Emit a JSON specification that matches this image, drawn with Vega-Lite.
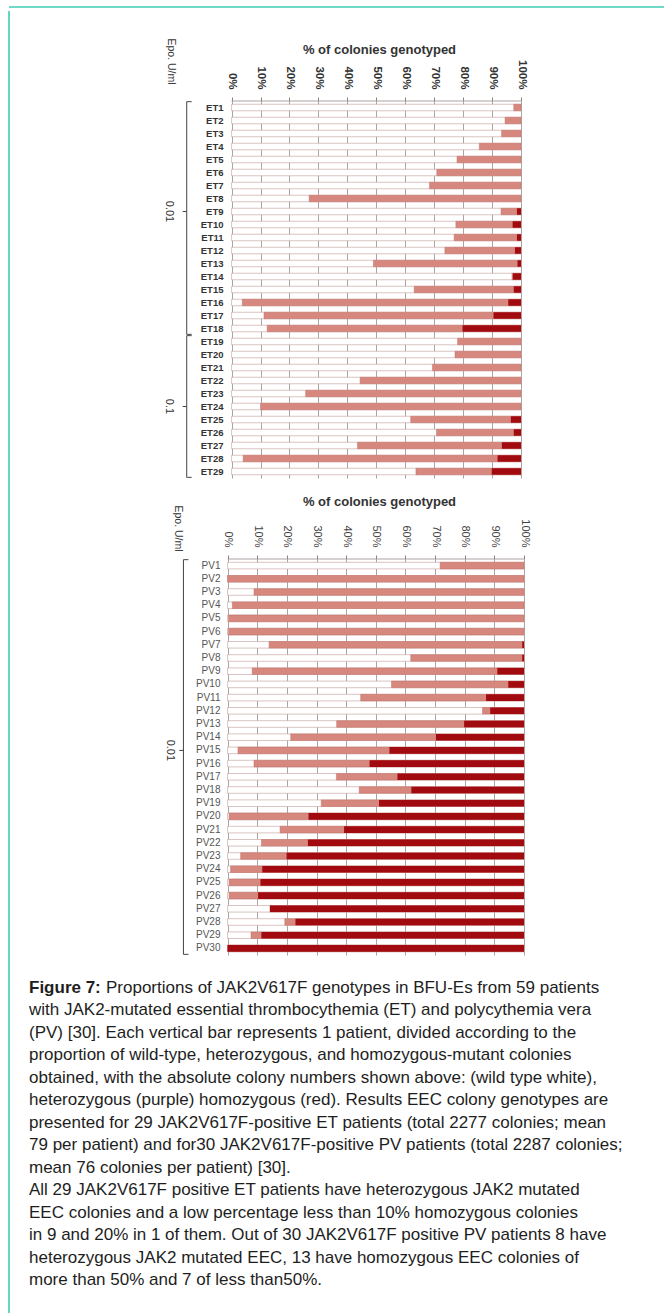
{
  "$schema": "https://vega.github.io/schema/vega-lite/v6.json",
  "background": "#ffffff",
  "padding": {"left": 8, "top": 6, "right": 0, "bottom": 0},
  "spacing": 0,
  "config": {
    "view": {"stroke": null},
    "font": "Liberation Sans",
    "axis": {"labelFont": "Liberation Sans", "titleFont": "Liberation Sans"}
  },
  "datasets": {
    "et": [
      {"patient": "ET1", "wt": 97.5, "wt_het": 100},
      {"patient": "ET2", "wt": 94.5, "wt_het": 100},
      {"patient": "ET3", "wt": 93.3, "wt_het": 100},
      {"patient": "ET4", "wt": 85.6, "wt_het": 100},
      {"patient": "ET5", "wt": 77.9, "wt_het": 100},
      {"patient": "ET6", "wt": 70.9, "wt_het": 100},
      {"patient": "ET7", "wt": 68.4, "wt_het": 100},
      {"patient": "ET8", "wt": 26.8, "wt_het": 100},
      {"patient": "ET9", "wt": 93.1, "wt_het": 98.6},
      {"patient": "ET10", "wt": 77.5, "wt_het": 97.1},
      {"patient": "ET11", "wt": 76.9, "wt_het": 98.6},
      {"patient": "ET12", "wt": 73.7, "wt_het": 97.9},
      {"patient": "ET13", "wt": 49.0, "wt_het": 98.8},
      {"patient": "ET14", "wt": 96.9, "wt_het": 97.2},
      {"patient": "ET15", "wt": 63.1, "wt_het": 97.5},
      {"patient": "ET16", "wt": 3.7, "wt_het": 95.6},
      {"patient": "ET17", "wt": 11.2, "wt_het": 90.5},
      {"patient": "ET18", "wt": 12.3, "wt_het": 79.8},
      {"patient": "ET19", "wt": 78.1, "wt_het": 100},
      {"patient": "ET20", "wt": 77.2, "wt_het": 100},
      {"patient": "ET21", "wt": 69.4, "wt_het": 100},
      {"patient": "ET22", "wt": 44.4, "wt_het": 100},
      {"patient": "ET23", "wt": 25.6, "wt_het": 100},
      {"patient": "ET24", "wt": 10.0, "wt_het": 100},
      {"patient": "ET25", "wt": 61.9, "wt_het": 96.5},
      {"patient": "ET26", "wt": 70.8, "wt_het": 97.5},
      {"patient": "ET27", "wt": 43.5, "wt_het": 93.4},
      {"patient": "ET28", "wt": 4.0, "wt_het": 91.9},
      {"patient": "ET29", "wt": 63.7, "wt_het": 89.9}
    ],
    "pv": [
      {"patient": "PV1", "wt": 71.7, "wt_het": 100},
      {"patient": "PV2", "wt": 0, "wt_het": 100},
      {"patient": "PV3", "wt": 8.9, "wt_het": 100},
      {"patient": "PV4", "wt": 1.6, "wt_het": 100},
      {"patient": "PV5", "wt": 0.3, "wt_het": 100},
      {"patient": "PV6", "wt": 0.3, "wt_het": 100},
      {"patient": "PV7", "wt": 14.0, "wt_het": 99.4},
      {"patient": "PV8", "wt": 61.8, "wt_het": 99.4},
      {"patient": "PV9", "wt": 8.3, "wt_het": 91.0},
      {"patient": "PV10", "wt": 55.3, "wt_het": 94.7},
      {"patient": "PV11", "wt": 44.9, "wt_het": 87.2},
      {"patient": "PV12", "wt": 86.0, "wt_het": 88.6},
      {"patient": "PV13", "wt": 36.8, "wt_het": 79.8},
      {"patient": "PV14", "wt": 21.3, "wt_het": 70.3},
      {"patient": "PV15", "wt": 3.5, "wt_het": 54.6},
      {"patient": "PV16", "wt": 8.9, "wt_het": 47.9},
      {"patient": "PV17", "wt": 36.7, "wt_het": 57.3},
      {"patient": "PV18", "wt": 44.4, "wt_het": 62.0},
      {"patient": "PV19", "wt": 31.6, "wt_het": 51.1},
      {"patient": "PV20", "wt": 0.5, "wt_het": 27.3},
      {"patient": "PV21", "wt": 17.7, "wt_het": 39.3},
      {"patient": "PV22", "wt": 11.4, "wt_het": 27.1},
      {"patient": "PV23", "wt": 4.4, "wt_het": 19.9},
      {"patient": "PV24", "wt": 1.0, "wt_het": 11.7},
      {"patient": "PV25", "wt": 0.5, "wt_het": 11.1},
      {"patient": "PV26", "wt": 0.5, "wt_het": 10.3},
      {"patient": "PV27", "wt": 14.3, "wt_het": 14.3},
      {"patient": "PV28", "wt": 19.3, "wt_het": 22.9},
      {"patient": "PV29", "wt": 7.9, "wt_het": 11.4},
      {"patient": "PV30", "wt": 0, "wt_het": 0}
    ],
    "et_epo": [
      {"from": "ET1", "to": "ET18", "mid": "ET9", "epo": "0.01"},
      {"from": "ET19", "to": "ET29", "mid": "ET24", "epo": "0.1"}
    ],
    "pv_epo": [
      {"from": "PV1", "to": "PV30", "mid": "PV15", "epo": "0.01"}
    ],
    "caption": [
      {"line": 1, "lead": "Figure 7:", "text": "Proportions of JAK2V617F genotypes in BFU-Es from 59 patients"},
      {"line": 2, "text": "with JAK2-mutated essential thrombocythemia (ET) and polycythemia vera"},
      {"line": 3, "text": "(PV) [30]. Each vertical bar represents 1 patient, divided according to the"},
      {"line": 4, "text": "proportion of wild-type, heterozygous, and homozygous-mutant colonies"},
      {"line": 5, "text": "obtained, with the absolute colony numbers shown above: (wild type white),"},
      {"line": 6, "text": "heterozygous (purple) homozygous (red). Results EEC colony genotypes are"},
      {"line": 7, "text": "presented for 29 JAK2V617F-positive ET patients (total 2277 colonies; mean"},
      {"line": 8, "text": "79 per patient) and for30 JAK2V617F-positive PV patients (total 2287 colonies;"},
      {"line": 9, "text": "mean 76 colonies per patient) [30]."},
      {"line": 10, "text": "All 29 JAK2V617F positive ET patients have heterozygous JAK2 mutated"},
      {"line": 11, "text": "EEC colonies and a low percentage less than 10% homozygous colonies"},
      {"line": 12, "text": "in 9 and 20% in 1 of them. Out of 30 JAK2V617F positive PV patients 8 have"},
      {"line": 13, "text": "heterozygous JAK2 mutated EEC, 13 have homozygous EEC colonies of"},
      {"line": 14, "text": "more than 50% and 7 of less than50%."}
    ]
  },
  "vconcat": [
    {
      "width": 656,
      "height": 1,
      "data": {"values": [{}]},
      "mark": {"type": "rule", "color": "#3fcdb2", "strokeWidth": 1.6},
      "encoding": {"y": {"datum": 1, "type": "quantitative", "scale": {"domain": [0, 1]}, "axis": null}}
    },
    {
      "spacing": 19,
      "hconcat": [
        {
          "width": 1,
          "height": 1306,
          "data": {"values": [{}]},
          "mark": {"type": "rule", "color": "#3fcdb2", "strokeWidth": 1.6},
          "encoding": {"x": {"datum": 0, "type": "quantitative", "scale": {"domain": [0, 1]}, "axis": null}}
        },
        {
          "spacing": 17,
          "vconcat": [
            {
              "width": 1,
              "height": 7,
              "data": {"values": [{}]},
              "mark": {"type": "text", "text": ""},
              "encoding": {}
            },
            {
              "width": 492,
              "height": {"step": 13},
              "layer": [
                {
                  "data": {"name": "et"},
                  "mark": {"type": "bar", "fill": "#ffffff", "stroke": "#c9aaa6", "strokeWidth": 0.7},
                  "encoding": {
                    "y": {
                      "field": "patient", "type": "nominal",
                      "scale": {"domain": ["ET1","ET2","ET3","ET4","ET5","ET6","ET7","ET8","ET9","ET10","ET11","ET12","ET13","ET14","ET15","ET16","ET17","ET18","ET19","ET20","ET21","ET22","ET23","ET24","ET25","ET26","ET27","ET28","ET29"], "paddingInner": 0.5, "paddingOuter": 0.25},
                      "axis": {
                        "orient": "left", "offset": -203, "domain": false, "ticks": false, "grid": false,
                        "labelPadding": 9, "labelFontSize": 9.5, "labelFontWeight": "bold", "labelColor": "#333333",
                        "title": "Epo. U/ml", "titleAngle": 90, "titleX": -62, "titleY": -40,
                        "titleAlign": "center", "titleBaseline": "middle", "titleFontSize": 10.5,
                        "titleFontWeight": "normal", "titleColor": "#333333"
                      }
                    },
                    "x": {
                      "datum": 0, "type": "quantitative",
                      "scale": {"domain": [-70, 100], "nice": false, "zero": false},
                      "axis": {
                        "orient": "top", "values": [0,10,20,30,40,50,60,70,80,90,100],
                        "labelExpr": "datum.value + '%'", "labelAngle": 90, "labelAlign": "right", "labelBaseline": "middle",
                        "labelFontSize": 11.5, "labelFontWeight": "bold", "labelColor": "#333333", "labelPadding": 8,
                        "labelFlush": false, "labelOverlap": false, "labelBound": false,
                        "domain": false, "ticks": true, "tickSize": 4, "tickColor": "#8a8080",
                        "grid": true, "gridColor": "#a39898", "gridWidth": 0.9,
                        "title": "% of colonies genotyped", "titleX": 350, "titleY": -52,
                        "titleAlign": "center", "titleBaseline": "middle", "titleFontSize": 13,
                        "titleFontWeight": "bold", "titleColor": "#333333"
                      }
                    },
                    "x2": {"datum": 100}
                  }
                },
                {
                  "data": {"name": "et"},
                  "transform": [{"filter": "datum.wt < 100"}],
                  "mark": {"type": "bar", "fill": "#d6877e", "stroke": "#c47068", "strokeWidth": 0.5},
                  "encoding": {
                    "y": {"field": "patient", "type": "nominal"},
                    "x": {"field": "wt", "type": "quantitative"},
                    "x2": {"datum": 100}
                  }
                },
                {
                  "data": {"name": "et"},
                  "transform": [{"filter": "datum.wt_het < 100"}],
                  "mark": {"type": "bar", "fill": "#a10b10"},
                  "encoding": {
                    "y": {"field": "patient", "type": "nominal"},
                    "x": {"field": "wt_het", "type": "quantitative"},
                    "x2": {"datum": 100}
                  }
                },
                {
                  "data": {"values": [{}]},
                  "mark": {"type": "rule", "color": "#a39898", "strokeWidth": 0.9},
                  "encoding": {
                    "y": {"datum": "ET1", "type": "nominal", "bandPosition": -0.5},
                    "x": {"datum": 0, "type": "quantitative"},
                    "x2": {"datum": 100}
                  }
                },
                {
                  "data": {"name": "et_epo"},
                  "mark": {"type": "rule", "color": "#444444", "strokeWidth": 1},
                  "encoding": {
                    "y": {"field": "from", "type": "nominal", "bandPosition": -0.4},
                    "y2": {"field": "to", "bandPosition": 1.4},
                    "x": {"datum": -15.5, "type": "quantitative"}
                  }
                },
                {
                  "data": {"name": "et_epo"},
                  "mark": {"type": "rule", "color": "#444444", "strokeWidth": 1},
                  "encoding": {
                    "y": {"field": "from", "type": "nominal", "bandPosition": -0.4},
                    "x": {"datum": -15.5, "type": "quantitative"},
                    "x2": {"datum": -13.8}
                  }
                },
                {
                  "data": {"name": "et_epo"},
                  "mark": {"type": "rule", "color": "#444444", "strokeWidth": 1},
                  "encoding": {
                    "y": {"field": "to", "type": "nominal", "bandPosition": 1.4},
                    "x": {"datum": -15.5, "type": "quantitative"},
                    "x2": {"datum": -13.8}
                  }
                },
                {
                  "data": {"name": "et_epo"},
                  "mark": {"type": "rule", "color": "#444444", "strokeWidth": 1},
                  "encoding": {
                    "y": {"field": "mid", "type": "nominal"},
                    "x": {"datum": -15.5, "type": "quantitative"},
                    "x2": {"datum": -16.9}
                  }
                },
                {
                  "data": {"name": "et_epo"},
                  "mark": {"type": "text", "angle": 90, "align": "center", "baseline": "middle", "fontSize": 11, "color": "#333333"},
                  "encoding": {
                    "y": {"field": "mid", "type": "nominal"},
                    "x": {"datum": -21.5, "type": "quantitative"},
                    "text": {"field": "epo"}
                  }
                }
              ]
            },
            {
              "width": 495,
              "height": {"step": 13.2},
              "layer": [
                {
                  "data": {"name": "pv"},
                  "mark": {"type": "bar", "fill": "#ffffff", "stroke": "#c9aaa6", "strokeWidth": 0.7},
                  "encoding": {
                    "y": {
                      "field": "patient", "type": "nominal",
                      "scale": {"domain": ["PV1","PV2","PV3","PV4","PV5","PV6","PV7","PV8","PV9","PV10","PV11","PV12","PV13","PV14","PV15","PV16","PV17","PV18","PV19","PV20","PV21","PV22","PV23","PV24","PV25","PV26","PV27","PV28","PV29","PV30"], "paddingInner": 0.5, "paddingOuter": 0.25},
                      "axis": {
                        "orient": "left", "offset": -198, "domain": false, "ticks": false, "grid": false,
                        "labelPadding": 7, "labelFontSize": 10, "labelFontWeight": "normal", "labelColor": "#555555",
                        "title": "Epo. U/ml", "titleAngle": 90, "titleX": -50, "titleY": -31,
                        "titleAlign": "center", "titleBaseline": "middle", "titleFontSize": 10.5,
                        "titleFontWeight": "normal", "titleColor": "#333333"
                      }
                    },
                    "x": {
                      "datum": 0, "type": "quantitative",
                      "scale": {"domain": [-67, 100], "nice": false, "zero": false},
                      "axis": {
                        "orient": "top", "values": [0,10,20,30,40,50,60,70,80,90,100],
                        "labelExpr": "datum.value + '%'", "labelAngle": 90, "labelAlign": "right", "labelBaseline": "middle",
                        "labelFontSize": 11, "labelFontWeight": "normal", "labelColor": "#444444", "labelPadding": 8,
                        "labelFlush": false, "labelOverlap": false, "labelBound": false,
                        "domain": false, "ticks": true, "tickSize": 4, "tickColor": "#8a8080",
                        "grid": true, "gridColor": "#a39898", "gridWidth": 0.9,
                        "title": "% of colonies genotyped", "titleX": 350, "titleY": -58,
                        "titleAlign": "center", "titleBaseline": "middle", "titleFontSize": 13,
                        "titleFontWeight": "bold", "titleColor": "#333333"
                      }
                    },
                    "x2": {"datum": 100}
                  }
                },
                {
                  "data": {"name": "pv"},
                  "transform": [{"filter": "datum.wt < 100"}],
                  "mark": {"type": "bar", "fill": "#d6877e", "stroke": "#c47068", "strokeWidth": 0.5},
                  "encoding": {
                    "y": {"field": "patient", "type": "nominal"},
                    "x": {"field": "wt", "type": "quantitative"},
                    "x2": {"datum": 100}
                  }
                },
                {
                  "data": {"name": "pv"},
                  "transform": [{"filter": "datum.wt_het < 100"}],
                  "mark": {"type": "bar", "fill": "#a10b10"},
                  "encoding": {
                    "y": {"field": "patient", "type": "nominal"},
                    "x": {"field": "wt_het", "type": "quantitative"},
                    "x2": {"datum": 100}
                  }
                },
                {
                  "data": {"values": [{}]},
                  "mark": {"type": "rule", "color": "#a39898", "strokeWidth": 0.9},
                  "encoding": {
                    "y": {"datum": "PV1", "type": "nominal", "bandPosition": -0.5},
                    "x": {"datum": 0, "type": "quantitative"},
                    "x2": {"datum": 100}
                  }
                },
                {
                  "data": {"name": "pv_epo"},
                  "mark": {"type": "rule", "color": "#444444", "strokeWidth": 1},
                  "encoding": {
                    "y": {"field": "from", "type": "nominal", "bandPosition": -0.4},
                    "y2": {"field": "to", "bandPosition": 1.4},
                    "x": {"datum": -14.9, "type": "quantitative"}
                  }
                },
                {
                  "data": {"name": "pv_epo"},
                  "mark": {"type": "rule", "color": "#444444", "strokeWidth": 1},
                  "encoding": {
                    "y": {"field": "from", "type": "nominal", "bandPosition": -0.4},
                    "x": {"datum": -14.9, "type": "quantitative"},
                    "x2": {"datum": -13.2}
                  }
                },
                {
                  "data": {"name": "pv_epo"},
                  "mark": {"type": "rule", "color": "#444444", "strokeWidth": 1},
                  "encoding": {
                    "y": {"field": "to", "type": "nominal", "bandPosition": 1.4},
                    "x": {"datum": -14.9, "type": "quantitative"},
                    "x2": {"datum": -13.2}
                  }
                },
                {
                  "data": {"name": "pv_epo"},
                  "mark": {"type": "rule", "color": "#444444", "strokeWidth": 1},
                  "encoding": {
                    "y": {"field": "mid", "type": "nominal"},
                    "x": {"datum": -14.9, "type": "quantitative"},
                    "x2": {"datum": -16.3}
                  }
                },
                {
                  "data": {"name": "pv_epo"},
                  "mark": {"type": "text", "angle": 90, "align": "center", "baseline": "middle", "fontSize": 11, "color": "#333333"},
                  "encoding": {
                    "y": {"field": "mid", "type": "nominal"},
                    "x": {"datum": -19.5, "type": "quantitative"},
                    "text": {"field": "epo"}
                  }
                }
              ]
            },
            {
              "width": 630,
              "height": {"step": 22.5},
              "data": {"name": "caption"},
              "encoding": {
                "y": {"field": "line", "type": "ordinal", "axis": null, "scale": {"type": "point", "padding": 0.7}},
                "x": {"datum": 0, "type": "quantitative", "scale": {"domain": [0, 1]}, "axis": null}
              },
              "layer": [
                {
                  "transform": [{"filter": "datum.line == 1"}],
                  "mark": {"type": "text", "align": "left", "baseline": "middle", "fontSize": 17, "fontWeight": "bold", "color": "#1e1e1e"},
                  "encoding": {"text": {"field": "lead"}}
                },
                {
                  "transform": [{"filter": "datum.line == 1"}],
                  "mark": {"type": "text", "align": "left", "baseline": "middle", "fontSize": 17, "color": "#1e1e1e", "dx": 77},
                  "encoding": {"text": {"field": "text"}}
                },
                {
                  "transform": [{"filter": "datum.line > 1"}],
                  "mark": {"type": "text", "align": "left", "baseline": "middle", "fontSize": 17, "color": "#1e1e1e"},
                  "encoding": {"text": {"field": "text"}}
                }
              ]
            }
          ]
        }
      ]
    }
  ]
}
